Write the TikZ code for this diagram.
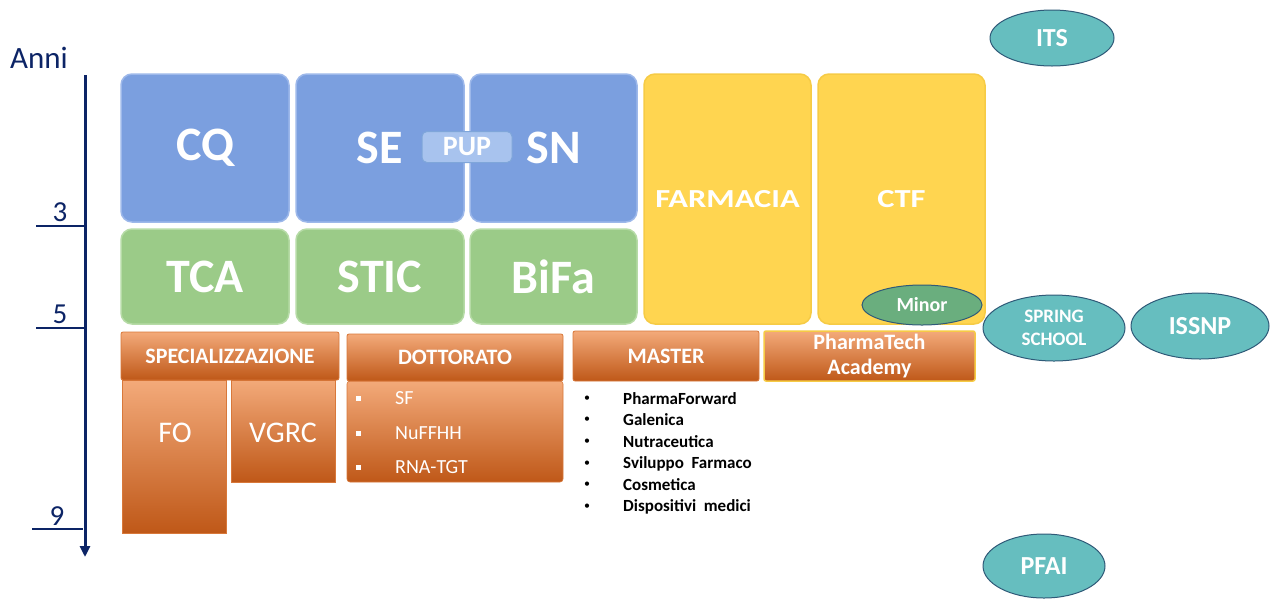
\documentclass[tikz,border=0pt]{standalone}
\usepackage{fontspec}
\setmainfont{Carlito}
\newfontfamily\widefont[FakeStretch=1.25]{Carlito}
\usetikzlibrary{arrows.meta,shapes.geometric}
\definecolor{navy}{HTML}{0C2466}
\definecolor{bluefill}{HTML}{7B9FDF}
\definecolor{blueedge}{HTML}{9DB8EA}
\definecolor{greenfill}{HTML}{9BCB88}
\definecolor{greenedge}{HTML}{B6DBA6}
\definecolor{yellowfill}{HTML}{FFD550}
\definecolor{yellowedge}{HTML}{F6CB45}
\definecolor{orangetop}{HTML}{F3AA7A}
\definecolor{orangebot}{HTML}{BF5818}
\definecolor{orangeedge}{HTML}{D8783A}
\definecolor{tealfill}{HTML}{66BEBF}
\definecolor{tealedge}{HTML}{2F5A78}
\definecolor{minorfill}{HTML}{6AAE7E}
\definecolor{pupfill}{HTML}{A8C3EE}
\definecolor{pupedge}{HTML}{7FA6DA}
\begin{document}
\begin{tikzpicture}[x=1pt,y=-1pt,
  card/.style={anchor=north west, inner sep=0pt, outer sep=0pt, rounded corners=11pt, line width=1.5pt, text=white, font=\bfseries\fontsize{48}{52}\selectfont},
  bluecard/.style={card, fill=bluefill, draw=blueedge},
  greencard/.style={card, fill=greenfill, draw=greenedge},
  yellowcard/.style={card, fill=yellowfill, draw=yellowedge, font=\widefont\bfseries\fontsize{26}{30}\selectfont},
  ohead/.style={anchor=north west, inner sep=0pt, outer sep=0pt, rounded corners=2pt, top color=orangetop, bottom color=orangebot, draw=orangeedge, line width=0.8pt, text=white, font=\bfseries\fontsize{22}{25}\selectfont, align=center},
  obody/.style={anchor=north west, inner sep=0pt, outer sep=0pt, top color=orangetop, bottom color=orangebot, draw=orangeedge, line width=0.6pt, text=white, font=\fontsize{30}{32}\selectfont},
  oval/.style={ellipse, inner sep=0pt, fill=tealfill, draw=tealedge, line width=1pt, text=white, font=\bfseries\fontsize{26}{28}\selectfont, align=center},
  axisline/.style={draw=navy, line width=3pt},
  tickline/.style={draw=navy, line width=2pt},
  axislabel/.style={text=navy, font=\fontsize{29}{31}\selectfont, inner sep=0pt},
  sqbullet/.style={fill=white, minimum size=5pt, inner sep=0pt},
  dotitem/.style={anchor=west, inner sep=0pt, text=white, font=\fontsize{20}{22}\selectfont},
  mbullet/.style={inner sep=0pt, font=\fontsize{12}{14}\selectfont},
  mitem/.style={anchor=west, inner sep=0pt, font=\bfseries\fontsize{17}{19}\selectfont}
]
\useasboundingbox (0,0) rectangle (1271,598);

% axis
\coordinate (axtop) at (85,75);
\coordinate (axbot) at (85,557);
\draw[axisline, -{Triangle[width=10pt,length=11pt]}] (axtop) -- (axbot);
\coordinate (t3a) at (36,226); \coordinate (t3b) at (86,226);
\coordinate (t5a) at (36,328); \coordinate (t5b) at (86,328);
\coordinate (t9a) at (32,529); \coordinate (t9b) at (83,529);
\draw[tickline] (t3a) -- (t3b);
\draw[tickline] (t5a) -- (t5b);
\draw[tickline] (t9a) -- (t9b);
\node[axislabel, font=\fontsize{31}{33}\selectfont] (anni) at (39,58) {Anni};
\node[axislabel] (l3) at (60,212) {3};
\node[axislabel] (l5) at (60,314) {5};
\node[axislabel] (l9) at (57,516) {9};

% blue cards
\node[bluecard, minimum width=168pt, minimum height=148pt] (cq) at (121,74) {CQ};
\node[bluecard, minimum width=168pt, minimum height=148pt] (se) at (296,74) {SE};
\node[bluecard, minimum width=167pt, minimum height=148pt] (sn) at (470,74) {SN};
\node[anchor=center, inner sep=0pt, minimum width=90pt, minimum height=31pt, rounded corners=5pt, fill=pupfill, draw=pupedge, line width=1pt, text=white, font=\bfseries\fontsize{28}{30}\selectfont] (pup) at (467,147) {PUP};

% green cards
\node[greencard, minimum width=168pt, minimum height=95pt] (tca) at (121,229) {TCA};
\node[greencard, minimum width=168pt, minimum height=95pt] (stic) at (296,229) {STIC};
\node[greencard, minimum width=167pt, minimum height=95pt] (bifa) at (470,229) {BiFa};

% yellow cards
\node[yellowcard, minimum width=167pt, minimum height=250pt] (farm) at (644,74) {FARMACIA};
\node[yellowcard, minimum width=167pt, minimum height=250pt] (ctf) at (818,74) {CTF};

% ovals
\node[oval, fill=minorfill, minimum width=120pt, minimum height=40pt, font=\bfseries\fontsize{20}{22}\selectfont] (minor) at (922,305) {Minor};
\node[oval, minimum width=124pt, minimum height=56pt] (its) at (1052,38) {ITS};
\node[oval, minimum width=142pt, minimum height=66pt, font=\bfseries\fontsize{19}{23}\selectfont] (spring) at (1054,328) {SPRING\\SCHOOL};
\node[oval, minimum width=138pt, minimum height=66pt] (issnp) at (1200,326) {ISSNP};
\node[oval, minimum width=122pt, minimum height=64pt] (pfai) at (1044,566) {PFAI};

% orange bodies
\node[obody, minimum width=104pt, minimum height=153pt] (fo) at (122,380) {};
\node[obody, minimum width=104pt, minimum height=102pt] (vgrc) at (231,380) {};
\node[text=white, inner sep=0pt, font=\fontsize{30}{32}\selectfont] (fot) at (175,433) {FO};
\node[text=white, inner sep=0pt, font=\fontsize{30}{32}\selectfont] (vgrct) at (283,433) {VGRC};
\node[obody, minimum width=216pt, minimum height=101pt, rounded corners=3pt] (dotbody) at (347,381) {};

% orange headers
\node[ohead, minimum width=218pt, minimum height=48pt] (spec) at (121,332) {SPECIALIZZAZIONE};
\node[ohead, minimum width=216pt, minimum height=47pt] (dott) at (347,334) {DOTTORATO};
\node[ohead, minimum width=186pt, minimum height=50pt] (master) at (573,331) {MASTER};
\node[ohead, minimum width=211pt, minimum height=50pt, draw=yellowedge, line width=1.5pt] (ptech) at (764,331) {PharmaTech\\Academy};

% dottorato list
\node[sqbullet] (db1) at (358,398) {};
\node[sqbullet] (db2) at (358,433) {};
\node[sqbullet] (db3) at (358,467) {};
\node[dotitem] (d1) at (395,398) {SF};
\node[dotitem] (d2) at (395,433) {NuFFHH};
\node[dotitem] (d3) at (395,467) {RNA-TGT};

% master list
\node[mbullet] (mb1) at (587,399) {•};
\node[mbullet] (mb2) at (587,420) {•};
\node[mbullet] (mb3) at (587,442) {•};
\node[mbullet] (mb4) at (587,464) {•};
\node[mbullet] (mb5) at (587,485) {•};
\node[mbullet] (mb6) at (587,507) {•};
\node[mitem] (m1) at (623,399) {PharmaForward};
\node[mitem] (m2) at (623,420) {Galenica};
\node[mitem] (m3) at (623,442) {Nutraceutica};
\node[mitem] (m4) at (623,464) {Sviluppo\hspace{0.45em}Farmaco};
\node[mitem] (m5) at (623,485) {Cosmetica};
\node[mitem] (m6) at (623,507) {Dispositivi\hspace{0.45em}medici};
\end{tikzpicture}
\end{document}
